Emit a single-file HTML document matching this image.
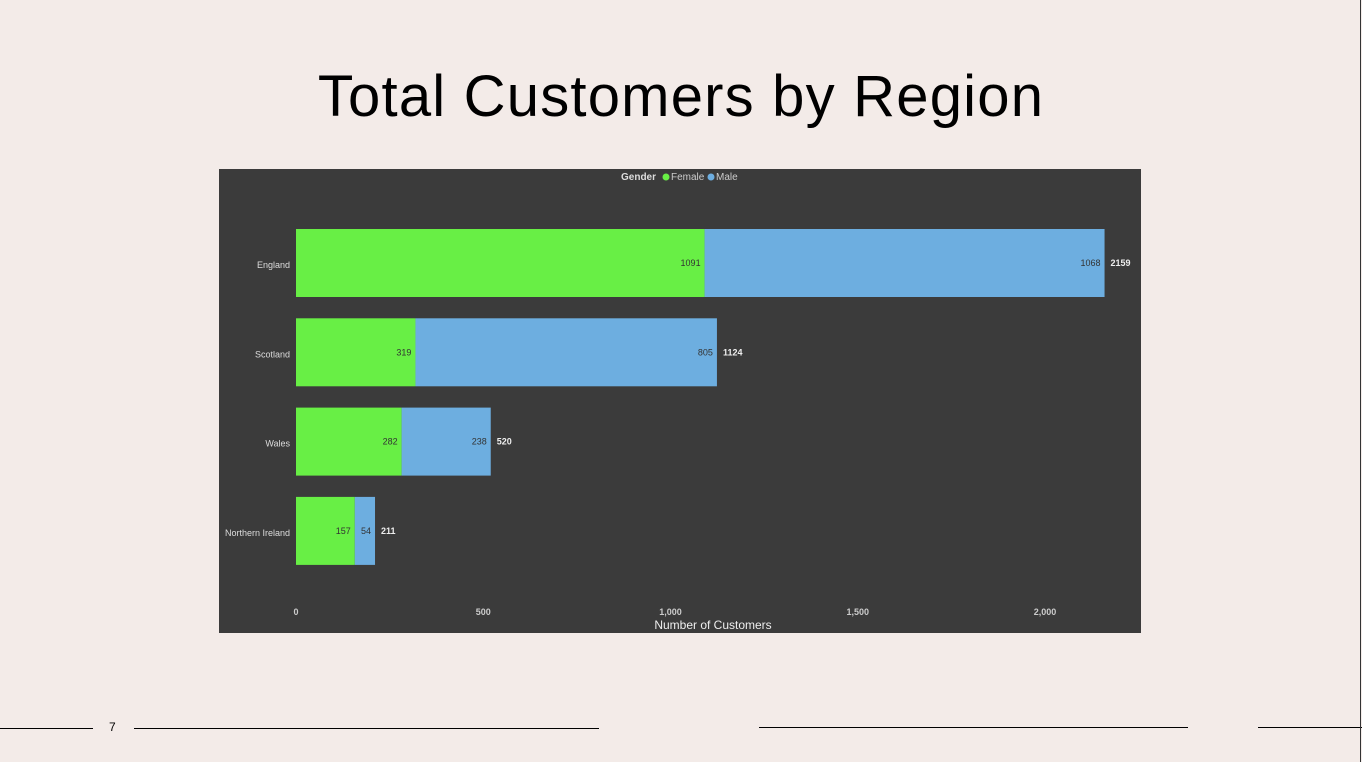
<!DOCTYPE html>
<html><head><meta charset="utf-8"><style>
body{margin:0;width:1362px;height:762px;background:#f3ebe8;position:relative;overflow:hidden;font-family:"Liberation Sans",sans-serif}
.t{position:absolute;left:0;width:1362px;top:63px;text-align:center;font-size:58px;color:#000;font-weight:400;letter-spacing:1.2px}
.ln{position:absolute;height:1px;background:#000}
</style></head><body>
<div class="t">Total Customers by Region</div>
<svg style="position:absolute;left:219px;top:169px" width="922" height="464" id="c"></svg>
<div class="ln" style="left:0;top:728px;width:93px"></div>
<div style="position:absolute;left:109px;top:720px;font-size:12px">7</div>
<div class="ln" style="left:134px;top:728px;width:465px"></div>
<div class="ln" style="left:759px;top:727px;width:429px"></div>
<div class="ln" style="left:1258px;top:727px;width:104px"></div>
<div style="position:absolute;left:1360px;top:0;width:1px;height:762px;background:#333"></div>
<script>
const regions=["England","Scotland","Wales","Northern Ireland"];
const female=[1091,319,282,157];
const male=[1068,805,238,54];
const ticks=[0,500,1000,1500,2000];
const tickLabels=["0","500","1,000","1,500","2,000"];
const ns="http://www.w3.org/2000/svg",svg=document.getElementById('c');
function el(t,a,txt){const e=document.createElementNS(ns,t);for(const k in a)e.setAttribute(k,a[k]);if(txt!=null)e.textContent=txt;svg.appendChild(e);return e;}
const X=v=>77+v*0.3745;
const Y=i=>60+i*89.3;
const bh=68;
let r=el('rect',{x:0,y:0,width:922,height:464,fill:'#3b3b3b'});


let lg=el('text',{x:402,y:11,fill:'#ddd','font-size':10,'font-weight':'bold'},'Gender');


let c1=el('circle',{cx:447,cy:8,r:3.5,fill:'#68ef45'});


let t1=el('text',{x:452,y:11,fill:'#ccc','font-size':10},'Female');


let c2=el('circle',{cx:492,cy:8,r:3.5,fill:'#6daee0'});


let t2=el('text',{x:497,y:11,fill:'#ccc','font-size':10},'Male');


regions.forEach((g,i)=>{
 const y=Y(i),tot=female[i]+male[i];
 let l=el('text',{x:71,y:y+bh/2+5,fill:'#ddd','font-size':9,'text-anchor':'end'},g);
 
 
 let b1=el('rect',{x:X(0),y:y,width:X(female[i])-X(0),height:bh,fill:'#68ef45'});
 
 
 let b2=el('rect',{x:X(female[i]),y:y,width:X(tot)-X(female[i]),height:bh,fill:'#6daee0'});
 
 
 let v1=el('text',{x:X(female[i])-4,y:y+bh/2+3,fill:'#333','font-size':9,'text-anchor':'end'},female[i]);
 
 
 let v2=el('text',{x:X(tot)-4,y:y+bh/2+3,fill:'#333','font-size':9,'text-anchor':'end'},male[i]);
 
 
 let v3=el('text',{x:X(tot)+6,y:y+bh/2+3,fill:'#eee','font-size':9,'font-weight':'bold'},tot);
 
 
});
ticks.forEach((t,i)=>{
 let tx=el('text',{x:X(t),y:446,fill:'#ccc','font-size':9,'font-weight':'bold','text-anchor':'middle'},tickLabels[i]);
 
 
});
let at=el('text',{x:494,y:460,fill:'#eee','font-size':12,'text-anchor':'middle'},'Number of Customers');


</script>
</body></html>
